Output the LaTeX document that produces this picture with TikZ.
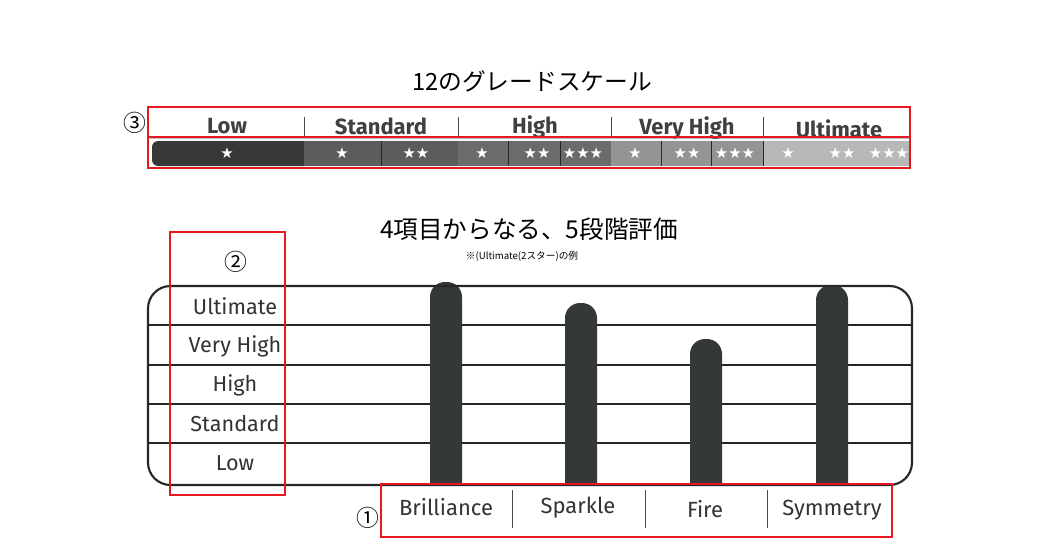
\documentclass[tikz,border=0pt]{standalone}
\usepackage{fontspec}
\setmainfont{Fira Sans}
\newfontfamily\jpfont{Noto Sans CJK JP}
\newfontfamily\starfont{DejaVu Sans}
\definecolor{boxred}{RGB}{232,24,32}
\definecolor{barink}{RGB}{52,56,56}
\tikzset{
  redbox/.style={draw=boxred,line width=1.3pt},
  grade/.style={font=\bfseries\fontsize{12.5}{14}\selectfont,text=black!75},
  level/.style={font=\fontsize{12.3}{14}\selectfont,text=black!80},
  item/.style={font=\fontsize{12.5}{14}\selectfont,text=black!80},
  stars/.style={font=\starfont\fontsize{8.5}{9}\selectfont,text=white},
  circnum/.style={font=\jpfont\fontsize{13}{14}\selectfont},
  bar/.style={fill=barink}
}
\begin{document}
\begin{tikzpicture}[x=0.02cm,y=-0.02cm]
\useasboundingbox (0,0) rectangle (1051,544);
\fill[white] (0,0) rectangle (1051,544);

% grade scale
\node[font=\jpfont\fontsize{13.5}{16}\selectfont] (scaletitle) at (532,81) {12のグレードスケール};
\draw[black!25,line width=1.2pt] (150,138) -- (910,138);
\foreach \x in {304,458,611,763} \draw[black!70,line width=0.4pt] (\x,117) -- (\x,138);
\node[grade] (gLow) at (227,126) {Low};
\node[grade] (gStandard) at (381,126) {Standard};
\node[grade] (gHigh) at (535,127) {High};
\node[grade] (gVeryHigh) at (687,128) {Very High};
\node[grade] (gUltimate) at (839,129) {Ultimate};

% star bar
\fill[black!78,rounded corners=0.12cm] (304,141) -- (152,141) -- (152,166) -- (304,166);
\fill[black!78] (200,141) rectangle (304,166);
\fill[black!64] (304,141) rectangle (458,166);
\fill[black!58] (458,141) rectangle (611,166);
\fill[black!42] (611,141) rectangle (763,166);
\fill[black!28] (763,141) rectangle (910,166);
\foreach \x in {381,508,560,661,711}
  \draw[black!85,line width=0.4pt] (\x,141) -- (\x,166);
\draw[black!85,line width=0.4pt] (763,141) -- (763,166);
\node[stars] (s1) at (227,153) {★};
\node[stars] (s2) at (342,153) {★};
\node[stars] (s3) at (416,153) {★★};
\node[stars] (s4) at (482,153) {★};
\node[stars] (s5) at (537,153) {★★};
\node[stars] (s6) at (583,153) {★★★};
\node[stars] (s7) at (635,153) {★};
\node[stars] (s8) at (687,153) {★★};
\node[stars] (s9) at (735,153) {★★★};
\node[stars] (s10) at (788,153) {★};
\node[stars] (s11) at (842,153) {★★};
\node[stars] (s12) at (889,153) {★★★};

\draw[redbox] (148,107) rectangle (910,137);
\draw[redbox] (148,137) rectangle (910,168);
\node[circnum] (n3) at (135,123) {③};

% evaluation chart
\node[font=\jpfont\fontsize{14}{16}\selectfont] (evaltitle) at (529,229) {4項目からなる、5段階評価};
\node[font=\jpfont\fontsize{5.5}{6}\selectfont] (evalnote) at (522,256) {※(Ultimate(2スター)の例};

\foreach \y in {325,365,404,443} \draw[black!85,line width=0.8pt] (148,\y) -- (912,\y);
\fill[bar] (430,485) [rounded corners=0.3cm] -- (430,282) -- (462,282) [sharp corners] -- (462,485) -- cycle;
\fill[bar] (565,485) [rounded corners=0.3cm] -- (565,303) -- (597,303) [sharp corners] -- (597,485) -- cycle;
\fill[bar] (690,485) [rounded corners=0.3cm] -- (690,339) -- (722,339) [sharp corners] -- (722,485) -- cycle;
\fill[bar] (816,485) [rounded corners=0.3cm] -- (816,285) -- (848,285) [sharp corners] -- (848,485) -- cycle;
\draw[black!85,line width=1.2pt,rounded corners=0.45cm] (148,286) rectangle (912,485);

\node[level] (lUltimate) at (235,306) {Ultimate};
\node[level] (lVeryHigh) at (235,346) {Very High};
\node[level] (lHigh) at (235,385) {High};
\node[level] (lStandard) at (235,424) {Standard};
\node[level] (lLow) at (235,463) {Low};
\draw[redbox] (170,232) rectangle (285,495);
\node[circnum] (n2) at (236,262) {②};

% items
\foreach \x in {512,645,767} \draw[black!70,line width=0.5pt] (\x,490) -- (\x,528);
\node[item] (iBrilliance) at (446,507) {Brilliance};
\node[item] (iSparkle) at (578,508) {Sparkle};
\node[item] (iFire) at (705,509) {Fire};
\node[item] (iSymmetry) at (832,510) {Symmetry};
\draw[redbox] (381,484) rectangle (892,537);
\node[circnum] (n1) at (368,518) {①};
\end{tikzpicture}
\end{document}
